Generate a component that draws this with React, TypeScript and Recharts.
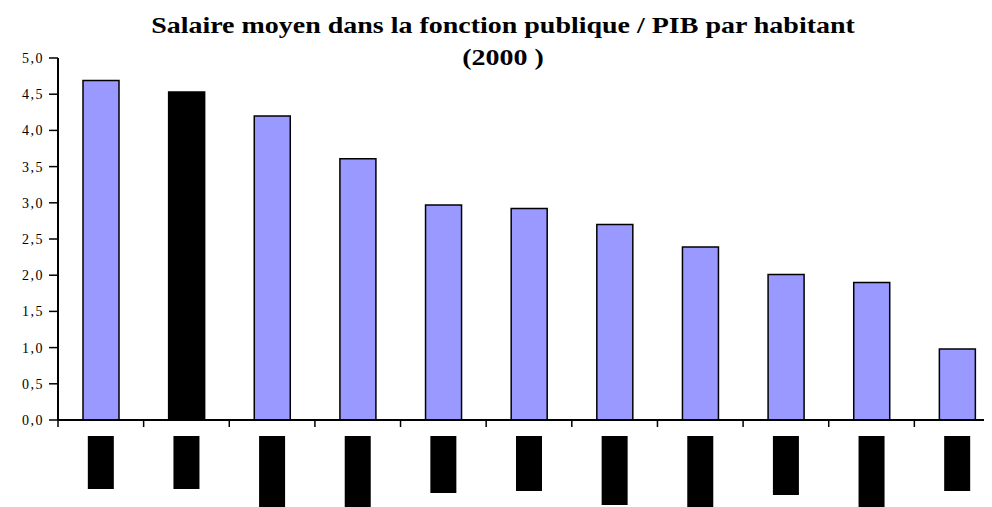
import { BarChart, Bar, Cell, XAxis, YAxis } from "recharts";

// ─── Data ─────────────────────────────────────────────────────────────────────

// category names are blacked out in the source; kept as placeholders
const categories = ["Pays 1", "Pays 2", "Pays 3", "Pays 4", "Pays 5", "Pays 6", "Pays 7", "Pays 8", "Pays 9", "Pays 10", "Pays 11"];
const ratios = [4.69, 4.53, 4.2, 3.61, 2.97, 2.92, 2.7, 2.39, 2.01, 1.9, 0.98];
const highlighted = ["Pays 2"];
// length of each redacted (vertical) label box, px
const redactedLabelLengths = [53, 53, 71, 71, 57, 55, 69, 71, 59, 71, 55];
const yTicks = [0, 0.5, 1, 1.5, 2, 2.5, 3, 3.5, 4, 4.5, 5];

const data = categories.map((name, i) => ({ name, ratio: ratios[i] }));

// ─── Layout ───────────────────────────────────────────────────────────────────

const CHART_W = 994;
const CHART_H = 499;
const MARGIN = { top: 50, right: 2, left: 0, bottom: 0 };
const Y_AXIS_W = 50;
const BAND = (CHART_W - MARGIN.left - MARGIN.right - Y_AXIS_W) / categories.length;

const serif = "'Liberation Serif', 'Times New Roman', serif";

function RedactedTick({ x, y, payload, index }: any) {
  const half = payload?.offset || BAND / 2;
  const len = redactedLabelLengths[index] ?? 55;
  return (
    <g>
      <line x1={x - half} x2={x - half} y1={y} y2={y + 7} stroke="#000" strokeWidth={1.5} />
      <rect x={x - 13} y={y + 16} width={26} height={len} fill="#000" />
    </g>
  );
}

export default function App() {
  return (
    <div style={{ position: "relative", width: 984, height: CHART_H, overflow: "hidden", background: "#fff" }}>
      <div
        style={{
          position: "absolute",
          left: 0,
          top: 1,
          width: CHART_W - 4,
          textAlign: "center",
          fontFamily: serif,
          fontWeight: "bold",
          fontSize: 23.5,
          lineHeight: "32px",
          color: "#000",
          transform: "scaleX(1.19)",
          transformOrigin: "center",
        }}
      >
        Salaire moyen dans la fonction publique / PIB par habitant
        <br />
        (2000 )
      </div>
      <BarChart width={CHART_W} height={CHART_H} data={data} margin={MARGIN} barCategoryGap={0}>
        <XAxis
          dataKey="name"
          height={CHART_H - 412}
          axisLine={{ stroke: "#000", strokeWidth: 2 }}
          tickLine={false}
          tickSize={0}
          tickMargin={0}
          interval={0}
          tick={<RedactedTick />}
        />
        <YAxis
          width={Y_AXIS_W}
          domain={[0, 5]}
          ticks={yTicks}
          interval={0}
          axisLine={{ stroke: "#000", strokeWidth: 2 }}
          tickLine={{ stroke: "#000", strokeWidth: 1.5 }}
          tickSize={9}
          tickMargin={5}
          tick={{ fontFamily: serif, fontSize: 14, fill: "#000", letterSpacing: 1.5 }}
          tickFormatter={(v: number) => v.toFixed(1).replace(".", ",")}
        />
        <Bar dataKey="ratio" barSize={36} stroke="#000" strokeWidth={1.5} isAnimationActive={false}>
          {data.map((d) => (
            <Cell key={d.name} fill={highlighted.includes(d.name) ? "#000000" : "#9999FF"} />
          ))}
        </Bar>
      </BarChart>
    </div>
  );
}
